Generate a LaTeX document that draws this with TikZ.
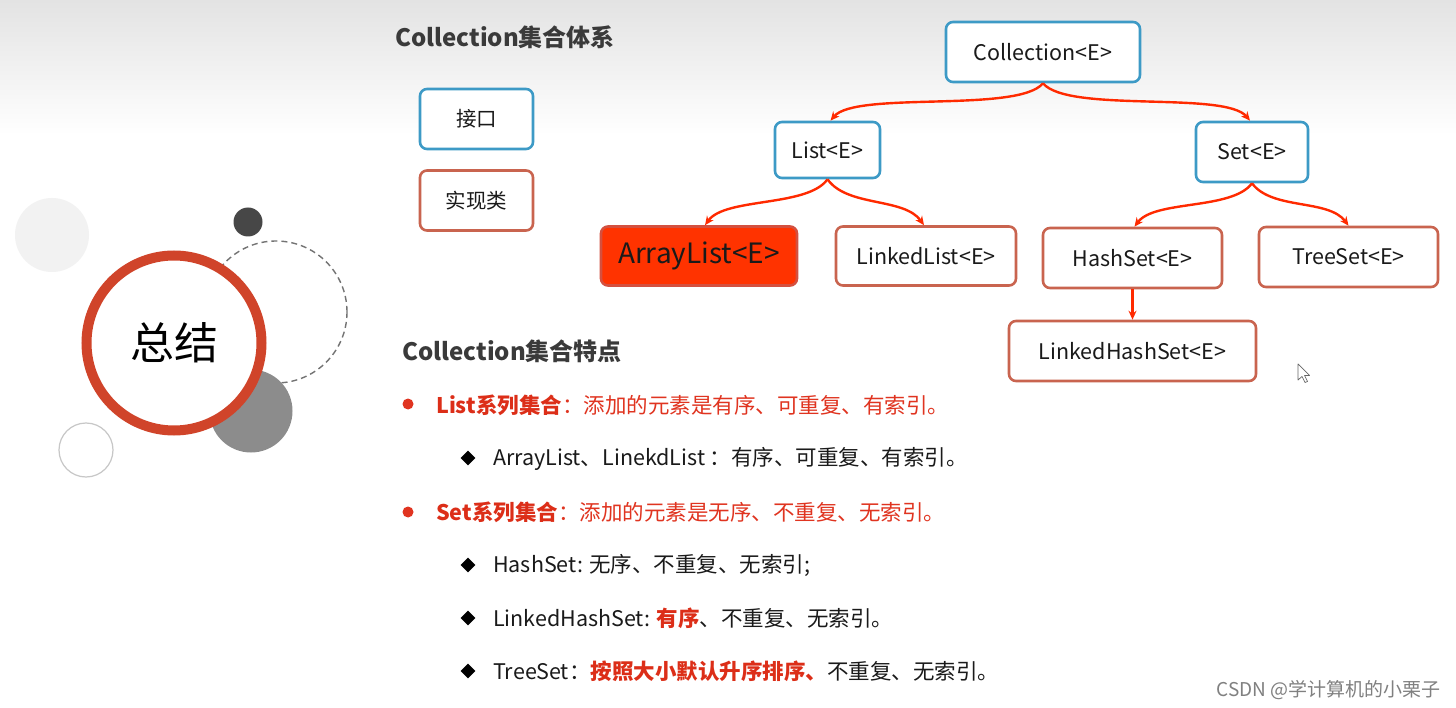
\documentclass[tikz,border=0pt]{standalone}
\usepackage{fontspec}
\setmainfont{Noto Sans CJK SC}
\usetikzlibrary{arrows.meta,shapes.geometric}
\definecolor{ifblue}{HTML}{3D9AC6}
\definecolor{imred}{HTML}{C9644F}
\definecolor{arfill}{HTML}{FF3300}
\definecolor{arrred}{HTML}{FF2A00}
\definecolor{ringred}{HTML}{D0442A}
\definecolor{headgray}{HTML}{3A3A3A}
\definecolor{txtred}{HTML}{E03420}
\definecolor{boldred}{HTML}{DC2E18}
\definecolor{txtblack}{HTML}{1A1A1A}
\newcommand{\fs}[1]{\fontsize{#1}{#1}\selectfont}
\begin{document}
\begin{tikzpicture}[x=1pt,y=-1pt,
  iface/.style={draw=ifblue, line width=2.6pt, rounded corners=7pt, fill=white, inner sep=0pt, font=\fs{21.5}, text=txtblack},
  impl/.style={draw=imred, line width=2.6pt, rounded corners=7pt, fill=white, inner sep=0pt, font=\fs{21.5}, text=txtblack},
  arr/.style={draw=arrred, line width=2.4pt, -{Stealth[length=9pt,width=8pt]}},
  head/.style={anchor=west, font=\fs{24}\bfseries, text=headgray, inner sep=0pt},
  line/.style={anchor=west, font=\fs{21.5}, text=txtblack, inner sep=0pt},
  dotb/.style={circle, fill=txtred, minimum size=11pt, inner sep=0pt},
  diab/.style={diamond, fill=black, minimum size=15pt, inner sep=0pt}]
\useasboundingbox (0,0) rectangle (1456,708);
\fill[white] (0,0) rectangle (1456,708);
\shade[top color=black!11, bottom color=white] (0,0) rectangle (1456,135);

% decoration circles
\fill[black!5] (52,235) circle (37);
\draw[black!55, line width=1.4pt, dash pattern=on 6pt off 4pt] (276,312) circle (71);
\fill[black!72] (248,222) circle (14.5);
\fill[black!45] (251,411) circle (41.5);
\draw[black!22, line width=1.2pt, fill=white] (86,450) circle (27);
\node[circle, draw=ringred, line width=10pt, fill=white, minimum size=175pt, inner sep=0pt, font=\fs{44}, text=black] (sum) at (174,343) {总结};

% headings
\node[head] (h1) at (395,37) {Collection集合体系};
\node[head] (h2) at (402,351) {Collection集合特点};

% legend
\node[iface, minimum width=113pt, minimum height=60pt, font=\fs{20.5}] (lgi) at (476.5,119) {接口};
\node[impl, minimum width=113pt, minimum height=60pt, font=\fs{20.5}] (lgc) at (476.5,200.5) {实现类};

% tree
\node[iface, minimum width=194pt, minimum height=60pt] (coll) at (1043,52) {Collection<E>};
\node[iface, minimum width=105pt, minimum height=56pt] (list) at (827.5,150) {List<E>};
\node[iface, minimum width=112pt, minimum height=60pt] (set) at (1252,152) {Set<E>};
\node[impl, draw=imred!80!red, fill=arfill, minimum width=196pt, minimum height=59pt, font=\fs{28}] (al) at (699,256) {ArrayList<E>};
\node[impl, minimum width=180pt, minimum height=59pt] (ll) at (926,256) {LinkedList<E>};
\node[impl, minimum width=179pt, minimum height=60pt] (hs) at (1132.5,258) {HashSet<E>};
\node[impl, minimum width=179pt, minimum height=60pt] (ts) at (1348.5,257) {TreeSet<E>};
\node[impl, minimum width=247pt, minimum height=60pt] (lhs) at (1132.5,351) {LinkedHashSet<E>};

\draw[arr] (coll.south) .. controls +(-25,30) and +(25,-30) .. ([xshift=3pt]list.north);
\draw[arr] (coll.south) .. controls +(25,30) and +(-25,-30) .. ([xshift=-2pt]set.north);
\draw[arr] (list.south) .. controls +(-20,28) and +(20,-28) .. ([xshift=6pt]al.north);
\draw[arr] (list.south) .. controls +(20,28) and +(-20,-28) .. ([xshift=-2pt]ll.north);
\draw[arr] (set.south) .. controls +(-20,27) and +(20,-27) .. ([xshift=2pt]hs.north);
\draw[arr] (set.south) .. controls +(20,27) and +(-20,-27) .. (ts.north);
\draw[arr] (hs.south) -- (lhs.north);

% bullet list
\node[dotb] (b1) at (408,404) {};
\node[line] (t1) at (436,405) {\textcolor{boldred}{\bfseries List系列集合}\textcolor{txtred}{：添加的元素是有序、可重复、有索引。}};
\node[diab] (b2) at (468,458) {};
\node[line] (t2) at (493,459) {ArrayList、LinekdList ：有序、可重复、有索引。};
\node[dotb] (b3) at (408,512) {};
\node[line] (t3) at (436,512) {\textcolor{boldred}{\bfseries Set系列集合}\textcolor{txtred}{：添加的元素是无序、不重复、无索引。}};
\node[diab] (b4) at (468,565) {};
\node[line] (t4) at (493,565) {HashSet: 无序、不重复、无索引;};
\node[diab] (b5) at (468,618) {};
\node[line] (t5) at (493,618) {LinkedHashSet: \textcolor{boldred}{\bfseries 有序}、不重复、无索引。};
\node[diab] (b6) at (468,671) {};
\node[line] (t6) at (493,671) {TreeSet：\textcolor{boldred}{\bfseries 按照大小默认升序排序、}不重复、无索引。};

% cursor
\draw[black!60, fill=white, line width=0.7pt, line join=round] (1298,364) -- (1298,380) -- (1302,376.5) -- (1305,382.5) -- (1307.5,381.5) -- (1304.5,375.5) -- (1309.5,375.5) -- cycle;

% watermark
\node[anchor=east, font=\fs{19}, text=black!50, inner sep=0pt] (wm) at (1441,690) {CSDN @学计算机的小栗子};
\end{tikzpicture}
\end{document}
